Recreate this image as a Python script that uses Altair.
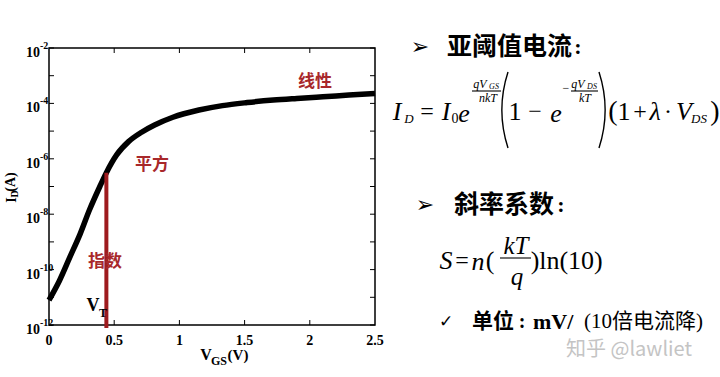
import math
import altair as alt
import pandas as pd

# ---------------- data ----------------
vgs = [0.0, 0.08, 0.16, 0.24, 0.31, 0.39, 0.44, 0.52, 0.61, 0.71, 0.81, 0.95,
       1.15, 1.33, 1.52, 1.72, 1.9, 2.1, 2.3, 2.5]
log_id = [-11.1, -10.4, -9.55, -8.7, -7.85, -7.0, -6.5, -5.85, -5.38, -5.04, -4.78, -4.5,
          -4.24, -4.08, -3.97, -3.88, -3.82, -3.76, -3.70, -3.64]
vt_x = [0.44]
vt_log = [-6.5]
x_ticks = [0, 0.5, 1, 1.5, 2, 2.5]
x_tick_labels = ["0", "0.5", "1", "1.5", "2", "2.5"]
y_exps = [-12, -11, -10, -9, -8, -7, -6, -5, -4, -3, -2]
y_label_exps = [-12, -10, -8, -6, -4, -2]

curve = pd.DataFrame({"vgs": vgs, "id": [10 ** v for v in log_id]})
vt = pd.DataFrame({"vgs": vt_x, "id": [10 ** v for v in vt_log]})
ytk = pd.DataFrame({"id": [10.0 ** e for e in y_exps]})
ylab = pd.DataFrame({"id": [10.0 ** e for e in y_label_exps],
                     "base": ["10"] * len(y_label_exps),
                     "exp": [str(e) for e in y_label_exps]})
xlab = pd.DataFrame({"vgs": x_ticks, "lab": x_tick_labels})
xtk = pd.DataFrame({"vgs": [v for v in x_ticks if 0 < v < 2.5]})

# ---------------- layout ----------------
L, T = 49, 48
W, H = 326, 277
SERIF = "Liberation Serif, Times New Roman, serif"
CJK = "Noto Sans CJK SC, Noto Sans, sans-serif"
MIXED = "Liberation Serif, Noto Sans CJK SC, serif"
RED_T = "#a8282b"
RED_L = "#9e1b1e"

xs = alt.Scale(domain=[0, 2.5], nice=False, zero=False)
ys = alt.Scale(type="log", domain=[1e-12, 1e-2], nice=False)

dummy = pd.DataFrame({"k": [0]})


def txt(s, x, y, size, font=SERIF, weight="normal", style="normal", color="black",
        align="center", angle=0, baseline="middle"):
    return alt.Chart(dummy).mark_text(
        fontSize=size, font=font, fontWeight=weight, fontStyle=style,
        color=color, align=align, baseline=baseline, angle=angle
    ).encode(x=alt.value(x - L), y=alt.value(y - T), text=alt.value(s))


def hline(x1, x2, y, w=1.1):
    return alt.Chart(dummy).mark_rule(color="black", strokeWidth=w).encode(
        x=alt.value(x1 - L), x2=alt.value(x2 - L), y=alt.value(y - T))


def big_paren(edge_x, y_top, y_bot, bulge, left=True, w=1.4):
    c = (y_bot - y_top) / 2.0
    r = (c * c + bulge * bulge) / (2.0 * bulge)
    half = math.asin(c / r)
    mid = 1.5 * math.pi if left else 0.5 * math.pi
    cx = edge_x + r if left else edge_x - r
    cy = (y_top + y_bot) / 2.0
    return alt.Chart(dummy).mark_arc(
        stroke="black", strokeWidth=w, fillOpacity=0, radius=r, radius2=r,
        theta=mid - half, theta2=mid + half
    ).encode(x=alt.value(cx - L), y=alt.value(cy - T))


def X(**kw):
    return alt.X("vgs:Q", scale=xs, title=None, axis=None, **kw)


def Y(**kw):
    return alt.Y("id:Q", scale=ys, title=None, axis=None, **kw)


red = alt.Chart(vt).mark_rule(color=RED_L, strokeWidth=4).encode(
    x=X(), y=Y(), y2=alt.value(H + 3))
line = alt.Chart(curve).mark_line(color="black", strokeWidth=5.5, interpolate="monotone").encode(
    x=X(), y=Y())

tick_l = alt.Chart(ytk).mark_rule(color="black", strokeWidth=1).encode(
    y=Y(), x=alt.value(0), x2=alt.value(5))
tick_r = alt.Chart(ytk).mark_rule(color="black", strokeWidth=1).encode(
    y=Y(), x=alt.value(W - 5), x2=alt.value(W))
tick_b = alt.Chart(xtk).mark_rule(color="black", strokeWidth=1).encode(
    x=X(), y=alt.value(H - 5), y2=alt.value(H))
tick_t = alt.Chart(xtk).mark_rule(color="black", strokeWidth=1).encode(
    x=X(), y=alt.value(0), y2=alt.value(5))

ylab_base = alt.Chart(ylab).mark_text(font=SERIF, fontWeight="bold", fontSize=14, align="right",
                                      baseline="middle", dy=5, color="black").encode(
    y=Y(), x=alt.value(40 - L), text="base:N")
ylab_exp = alt.Chart(ylab).mark_text(font=SERIF, fontWeight="bold", fontSize=10, align="left",
                                     baseline="middle", dy=-2, color="black").encode(
    y=Y(), x=alt.value(40 - L), text="exp:N")
xlab_t = alt.Chart(xlab).mark_text(font=SERIF, fontWeight="bold", fontSize=14, align="center",
                                   baseline="middle", color="black").encode(
    x=X(), y=alt.value(H + 16), text="lab:N")

annots = [
    # chart annotations
    txt("线性", 315, 82, 17, font=CJK, weight="bold", color=RED_T),
    txt("平方", 152, 165, 17, font=CJK, weight="bold", color=RED_T),
    txt("指数", 105, 262, 17, font=CJK, weight="bold", color=RED_T),
    txt("V", 93, 306, 18, weight="bold"),
    txt("T", 103, 313, 12, weight="bold"),
    # axis titles
    txt("V", 206, 355, 16, weight="bold"),
    txt("GS", 219, 361, 12, weight="bold"),
    txt("(V)", 238, 355, 15, weight="bold"),
    txt("I", 12, 200, 14, weight="bold", angle=270),
    txt("D", 15, 194, 10, weight="bold", angle=270),
    txt("(A)", 11, 182, 14, weight="bold", angle=270),
    # heading 1
    txt("➢", 420, 47, 22, font="DejaVu Sans"),
    txt("亚阈值电流", 447, 47, 25, font=CJK, weight="bold", align="left"),
    txt(":", 578, 47, 22, weight="bold"),
    # formula 1
    txt("I", 397, 112, 26, style="italic"),
    txt("D", 409, 119, 13, style="italic"),
    txt("=", 427, 112, 24),
    txt("I", 446, 112, 26, style="italic"),
    txt("0", 455, 119, 14),
    txt("e", 464, 114, 26, style="italic"),
    txt("qV", 480, 84, 12, style="italic"),
    txt("GS", 494, 87, 8, style="italic"),
    hline(472, 501, 91),
    txt("nkT", 488, 98, 12, style="italic"),
    big_paren(502, 72, 148, 6, left=True),
    txt("1", 515, 112, 26),
    txt("−", 535, 112, 24),
    txt("e", 556, 114, 26, style="italic"),
    txt("−", 566, 88, 12),
    txt("qV", 578, 84, 12, style="italic"),
    txt("DS", 592, 87, 8, style="italic"),
    hline(571, 598, 91),
    txt("kT", 585, 98, 12, style="italic"),
    big_paren(605, 72, 148, 6, left=False),
    txt("(", 613, 112, 28),
    txt("1", 624, 112, 26),
    txt("+", 640, 112, 24),
    txt("λ", 655, 112, 26, style="italic"),
    txt("·", 668, 112, 24),
    txt("V", 684, 112, 26, style="italic"),
    txt("DS", 699, 119, 13, style="italic"),
    txt(")", 715, 112, 28),
    # heading 2
    txt("➢", 425, 205, 22, font="DejaVu Sans"),
    txt("斜率系数", 454, 205, 25, font=CJK, weight="bold", align="left"),
    txt(":", 561, 205, 22, weight="bold"),
    # formula 2
    txt("S", 446, 261, 26, style="italic"),
    txt("=", 462, 261, 24),
    txt("n", 478, 262, 26, style="italic"),
    txt("(", 490, 261, 26),
    txt("kT", 516, 246, 25, style="italic"),
    hline(500, 531, 258),
    txt("q", 517, 277, 25, style="italic"),
    txt(")", 535, 261, 26),
    txt("ln(10)", 571, 261, 26),
    # unit line
    txt("✓", 446, 322, 17, font="DejaVu Sans"),
    txt("单位", 472, 322, 21, font=CJK, weight="bold", align="left"),
    txt(":", 522, 322, 20, weight="bold"),
    txt("mV/", 533, 322, 22, weight="bold", align="left"),
    txt("(10倍电流降)", 584, 322, 21, font=MIXED, align="left"),
    # watermark
    txt("知乎 @lawliet", 566, 350, 20, font=CJK, color="#c4c4c4", align="left"),
]

chart = alt.layer(
    line, red, tick_l, tick_r, tick_b, tick_t, ylab_base, ylab_exp, xlab_t, *annots
).properties(
    width=W, height=H,
    padding={"left": L, "top": T, "right": 720 - L - W, "bottom": 377 - T - H},
    autosize=alt.AutoSizeParams(type="none"),
    background="white",
).configure_view(stroke="black", strokeWidth=1.5)

chart.save("out.html", embed_options={"renderer": "svg", "actions": False})
